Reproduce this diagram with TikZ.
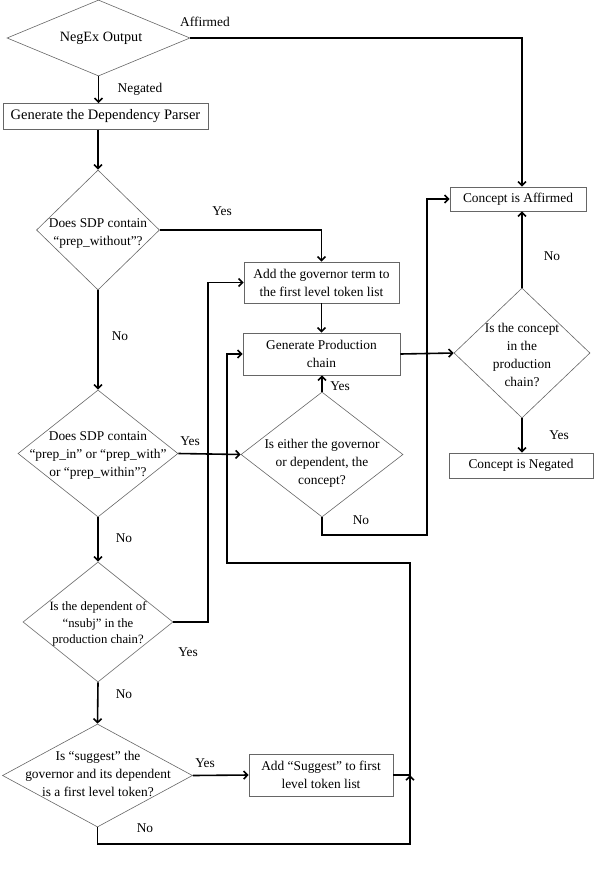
\documentclass[tikz,border=0pt]{standalone}
\usepackage{fontspec}
\setmainfont{Liberation Serif}
\usetikzlibrary{shapes.geometric,arrows.meta}
\begin{document}
\begin{tikzpicture}[x=1pt,y=-1pt,
  every node/.style={font=\fontsize{13.4}{18}\selectfont},
  boxnode/.style={draw=black!60,line width=0.6pt,rectangle,inner sep=0pt,align=center},
  dia/.style={draw=black!60,line width=0.6pt,diamond,inner sep=0pt,aspect=1},
  dtext/.style={align=center,inner sep=0pt},
  conn/.style={line width=1.6pt,-{Straight Barb[length=4pt,width=8pt]}},
  plain/.style={line width=1.6pt},
  lbl/.style={inner sep=0pt}]
\useasboundingbox (0,0) rectangle (596,876);

% shapes
\node[dia,minimum width=183,minimum height=76] (negex) at (98.5,38) {};
\node[dtext,font=\fontsize{14.2}{18}\selectfont] at (101,38) {NegEx Output};

\node[boxnode,minimum width=205,minimum height=26,font=\fontsize{14.5}{18}\selectfont] (gendep) at (105.5,116.5) {Generate the Dependency Parser};

\node[dia,minimum width=123,minimum height=120] (d2) at (98,230) {};
\node[dtext] at (98,233) {Does SDP contain\\“prep\_without”?};

\node[boxnode,minimum width=155,minimum height=41] (addgov) at (321.5,282.5) {Add the governor term to\\the first level token list};
\node[boxnode,minimum width=157,minimum height=42] (genprod) at (321.5,354) {Generate Production\\chain};

\node[dia,minimum width=162,minimum height=125] (either) at (322,454.5) {};
\node[dtext] at (322,463) {Is either the governor\\or dependent, the\\concept?};

\node[boxnode,minimum width=136,minimum height=24] (caff) at (518,199) {Concept is Affirmed};
\node[dia,minimum width=136,minimum height=130] (cdiam) at (522,353) {};
\node[dtext] at (522,355) {Is the concept\\in the\\production\\chain?};
\node[boxnode,minimum width=144,minimum height=25] (cneg) at (521,465.5) {Concept is Negated};

\node[dia,minimum width=160,minimum height=127] (d3) at (98,453.5) {};
\node[dtext] at (98,455) {Does SDP contain\\“prep\_in” or “prep\_with”\\or “prep\_within”?};

\node[dia,minimum width=150,minimum height=120] (d4) at (98,622) {};
\node[dtext,font=\fontsize{12.7}{16.5}\selectfont] at (98,624) {Is the dependent of\\“nsubj” in the\\production chain?};

\node[dia,minimum width=190,minimum height=103] (d5) at (97.5,775.5) {};
\node[dtext] at (98,774) {Is “suggest” the\\governor and its dependent\\is a first level token?};

\node[boxnode,minimum width=144,minimum height=42] (addsug) at (321,775) {Add “Suggest” to first\\level token list};

% junction coordinates
\coordinate (j1) at (427,535);
\coordinate (j2) at (208,622);
\coordinate (j3) at (410,775);
\coordinate (j4) at (410,563);
\coordinate (j5) at (227,563);
\coordinate (j6) at (410,844);

% connectors
\draw[conn] (negex.east) -| (cdiam.north |- caff.north);
\draw[conn] (negex.south) -- (negex.south |- gendep.north);
\draw[conn] (d2.north |- gendep.south) -- (d2.north);
\draw[conn] (d2.east) -| (addgov.north);
\draw[conn] (addgov.south) -- (genprod.north);
\draw[conn] (d2.south) -- (d3.north);
\draw[conn] (d3.east) -- (either.west);
\draw[conn] (either.north) -- (either.north |- genprod.south);
\draw[conn] (either.south) |- (j1) |- (caff.west);
\draw[conn] (genprod.east) -- (cdiam.west);
\draw[conn] (cdiam.north) -- (cdiam.north |- caff.south);
\draw[conn] (cdiam.south) -- (cdiam.south |- cneg.north);
\draw[conn] (d3.south) -- (d4.north);
\draw[conn] (d4.east) -- (j2) |- (addgov.west);
\draw[conn] (d4.south) -- (d5.north);
\draw[conn] (d5.east) -- (addsug.west);
\draw[conn] (addsug.east) -- (j3) -- (j4) -- (j5) |- (genprod.west);
\draw[conn] (d5.south) |- (j6) -- (j3);

% labels
\node[lbl] at (205,22) {Affirmed};
\node[lbl] at (140,89) {Negated};
\node[lbl] at (222,211) {Yes};
\node[lbl] at (120,336) {No};
\node[lbl] at (190,441) {Yes};
\node[lbl] at (340,386) {Yes};
\node[lbl] at (361,520) {No};
\node[lbl] at (552,256) {No};
\node[lbl] at (559,435) {Yes};
\node[lbl] at (124,538) {No};
\node[lbl] at (188,652) {Yes};
\node[lbl] at (124,694) {No};
\node[lbl] at (205,763) {Yes};
\node[lbl] at (145,828) {No};
\end{tikzpicture}
\end{document}
